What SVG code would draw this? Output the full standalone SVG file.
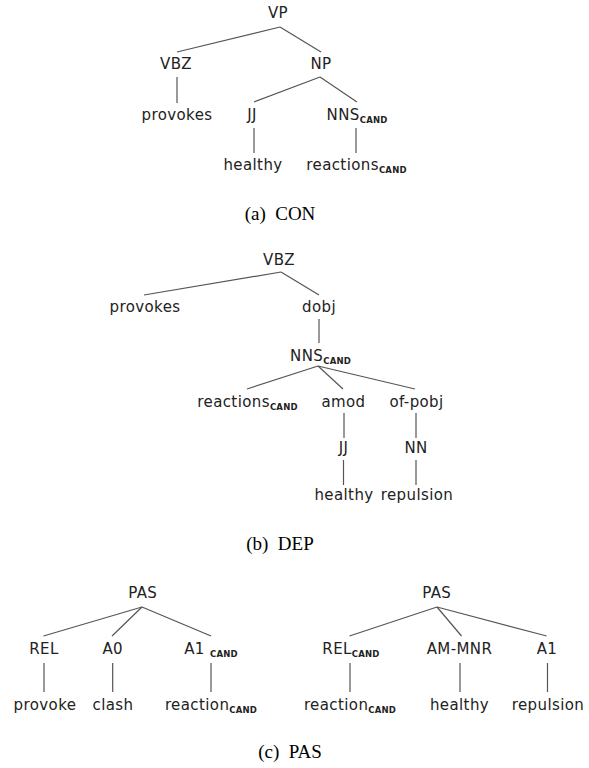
<svg xmlns="http://www.w3.org/2000/svg" width="589" height="768" viewBox="0 0 589 768">
<style>
.l{font-family:"DejaVu Sans",Verdana,sans-serif;font-size:15px;letter-spacing:0.4px;fill:#222;text-anchor:middle}
.s{font-family:"DejaVu Sans",Verdana,sans-serif;font-size:8.5px;font-weight:bold;letter-spacing:0.2px}
.c{font-family:"Liberation Serif","Times New Roman",serif;font-size:19px;fill:#000;text-anchor:middle}
.e line{stroke:#555;stroke-width:1.2}
</style>
<rect width="589" height="768" fill="#fff"/>
<g id="con">
<g class="e" id="con-edges">
<line x1="280" y1="27" x2="177" y2="52"/><line x1="280" y1="27" x2="321" y2="52"/>
<line x1="177" y1="77" x2="177" y2="103"/>
<line x1="320" y1="77" x2="254" y2="102"/><line x1="320" y1="77" x2="357" y2="102"/>
<line x1="254" y1="128" x2="254" y2="153"/><line x1="356" y1="128" x2="356" y2="153"/>
</g>
<g id="con-vp"><text class="l" x="278" y="18">VP</text></g>
<g id="con-vbz"><text class="l" x="176" y="69">VBZ</text></g>
<g id="con-np"><text class="l" x="321" y="69">NP</text></g>
<g id="con-provokes"><text class="l" x="177" y="120">provokes</text></g>
<g id="con-jj"><text class="l" x="252" y="120">JJ</text></g>
<g id="con-nns"><text class="l" x="357" y="120">NNS<tspan class="s" dy="2.5">CAND</tspan></text></g>
<g id="con-healthy"><text class="l" x="253" y="170">healthy</text></g>
<g id="con-reactions"><text class="l" x="356.5" y="170">reactions<tspan class="s" dy="2.5">CAND</tspan></text></g>
<text class="c" x="280" y="220" xml:space="preserve">(a)  CON</text>
</g>
<g id="dep">
<g class="e" id="dep-edges">
<line x1="281" y1="272" x2="144" y2="295"/><line x1="281" y1="272" x2="319" y2="295"/>
<line x1="319" y1="319" x2="319" y2="343"/>
<line x1="318" y1="366" x2="247" y2="389"/><line x1="318" y1="366" x2="343" y2="389"/><line x1="318" y1="366" x2="415" y2="389"/>
<line x1="344" y1="413" x2="344" y2="438"/><line x1="416" y1="413" x2="416" y2="438"/>
<line x1="343.5" y1="460" x2="343.5" y2="485"/><line x1="416" y1="460" x2="416" y2="485"/>
</g>
<g id="dep-vbz"><text class="l" x="279" y="265">VBZ</text></g>
<g id="dep-provokes"><text class="l" x="145" y="312">provokes</text></g>
<g id="dep-dobj"><text class="l" x="319" y="312">dobj</text></g>
<g id="dep-nns"><text class="l" x="320.5" y="361">NNS<tspan class="s" dy="2.5">CAND</tspan></text></g>
<g id="dep-reactions"><text class="l" x="247.5" y="407">reactions<tspan class="s" dy="2.5">CAND</tspan></text></g>
<g id="dep-amod"><text class="l" x="343.5" y="407">amod</text></g>
<g id="dep-ofpobj"><text class="l" x="416.5" y="407">of-pobj</text></g>
<g id="dep-jj"><text class="l" x="343.5" y="453">JJ</text></g>
<g id="dep-nn"><text class="l" x="416" y="453">NN</text></g>
<g id="dep-healthy"><text class="l" x="344" y="500">healthy</text></g>
<g id="dep-repulsion"><text class="l" x="417" y="500">repulsion</text></g>
<text class="c" x="280" y="550" xml:space="preserve">(b)  DEP</text>
</g>
<g id="pas">
<g class="e" id="pas-edges">
<line x1="142" y1="607" x2="43.5" y2="636"/><line x1="142" y1="607" x2="112" y2="636"/><line x1="142" y1="607" x2="211" y2="636"/>
<line x1="44" y1="663" x2="44" y2="692"/><line x1="112.7" y1="663" x2="112.7" y2="692"/><line x1="211" y1="663" x2="211" y2="692"/>
<line x1="437" y1="607" x2="349.5" y2="636"/><line x1="437" y1="607" x2="461.5" y2="636"/><line x1="437" y1="607" x2="546.7" y2="636"/>
<line x1="350" y1="663" x2="350" y2="692"/><line x1="460" y1="663" x2="460" y2="692"/><line x1="547.5" y1="663" x2="547.5" y2="692"/>
</g>
<g id="pas1"><text class="l" x="142.7" y="598">PAS</text></g>
<g id="pas1-rel"><text class="l" x="44" y="654">REL</text></g>
<g id="pas1-a0"><text class="l" x="112.7" y="654">A0</text></g>
<g id="pas1-a1"><text class="l" x="211" y="654">A1 <tspan class="s" dy="2.5">CAND</tspan></text></g>
<g id="pas1-provoke"><text class="l" x="45" y="710">provoke</text></g>
<g id="pas1-clash"><text class="l" x="113" y="710">clash</text></g>
<g id="pas1-reaction"><text class="l" x="211" y="710">reaction<tspan class="s" dy="2.5">CAND</tspan></text></g>
<g id="pas2"><text class="l" x="436.7" y="598">PAS</text></g>
<g id="pas2-rel"><text class="l" x="351" y="654">REL<tspan class="s" dy="2.5">CAND</tspan></text></g>
<g id="pas2-ammnr"><text class="l" x="459.5" y="654">AM-MNR</text></g>
<g id="pas2-a1"><text class="l" x="547" y="654">A1</text></g>
<g id="pas2-reaction"><text class="l" x="350" y="710">reaction<tspan class="s" dy="2.5">CAND</tspan></text></g>
<g id="pas2-healthy"><text class="l" x="459.5" y="710">healthy</text></g>
<g id="pas2-repulsion"><text class="l" x="548" y="710">repulsion</text></g>
<text class="c" x="290" y="758" xml:space="preserve">(c)  PAS</text>
</g>
</svg>
